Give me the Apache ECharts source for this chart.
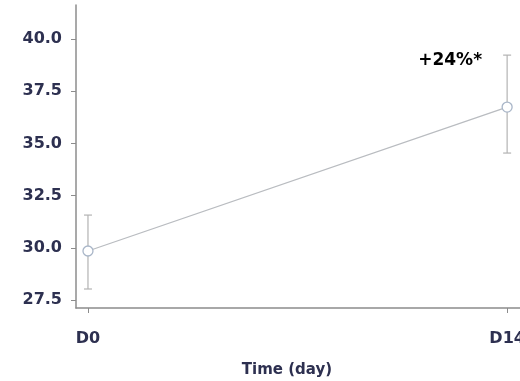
<!DOCTYPE html>
<html><head><meta charset="utf-8">
<script src="https://cdn.jsdelivr.net/npm/echarts@6/dist/echarts.min.js"></script>
<style>html,body{margin:0;padding:0;background:#fff}#c{width:520px;height:381px}</style>
</head><body><div id="c"></div>
<script>
const days = [0, 14];
const dayLabels = ['D0', 'D14'];
const means = [29.85, 36.74];
const errLow = [28.03, 34.54];
const errHigh = [31.57, 39.23];
const yTicks = [27.5, 30.0, 32.5, 35.0, 37.5, 40.0];
const annotation = '+24%*';

const chart = echarts.init(document.getElementById('c'));
const lineData = days.map((d, i) => [d, means[i]]);
const errData = days.map((d, i) => [d, errLow[i], errHigh[i]]);
const labelFont = 'DejaVu Sans';
const textColor = '#2d3050';
chart.setOption({
  animation: false,
  backgroundColor: '#fff',
  grid: {left: 76, right: 0, top: 5, bottom: 73, containLabel: false, outerBoundsMode: 'none'},
  xAxis: {
    type: 'value', min: -0.4, max: 14.43,
    axisLine: {show: true, onZero: false, lineStyle: {color: '#8c8c8c', width: 1.5}},
    axisTick: {show: true, length: 5, lineStyle: {color: '#8c8c8c'}, customValues: days},
    axisLabel: {customValues: days, formatter: v => dayLabels[days.indexOf(v)], color: textColor,
      fontFamily: labelFont, fontWeight: 'bold', fontSize: 16, margin: 23},
    splitLine: {show: false}
  },
  yAxis: {
    type: 'value', min: 27.12, max: 41.63,
    axisLine: {show: true, onZero: false, lineStyle: {color: '#8c8c8c', width: 1.5}},
    axisTick: {show: true, length: 5, lineStyle: {color: '#8c8c8c'}, customValues: yTicks},
    axisLabel: {customValues: yTicks, formatter: v => v.toFixed(1), color: textColor,
      fontFamily: labelFont, fontWeight: 'bold', fontSize: 16, margin: 14},
    splitLine: {show: false}
  },
  graphic: [
    {type: 'text', x: 287, y: 370,
     style: {text: 'Time (day)', fill: textColor, font: 'bold 15px "DejaVu Sans"', align: 'center', verticalAlign: 'middle'}}
  ],
  series: [
    {
      type: 'custom',
      renderItem: function (params, api) {
        const x = api.value(0);
        const lo = api.coord([x, api.value(1)]);
        const hi = api.coord([x, api.value(2)]);
        const cw = 4;
        const st = {stroke: '#b3b3b3', lineWidth: 1.2};
        return {type: 'group', children: [
          {type: 'line', shape: {x1: lo[0], y1: lo[1], x2: hi[0], y2: hi[1]}, style: st},
          {type: 'line', shape: {x1: lo[0]-cw, y1: lo[1], x2: lo[0]+cw, y2: lo[1]}, style: st},
          {type: 'line', shape: {x1: hi[0]-cw, y1: hi[1], x2: hi[0]+cw, y2: hi[1]}, style: st}
        ]};
      },
      data: errData, z: 1
    },
    {
      type: 'line', data: lineData, z: 2,
      lineStyle: {color: '#b9bcc0', width: 1.3},
      symbol: 'circle', symbolSize: 10,
      itemStyle: {color: '#fff', borderColor: '#a9b6c8', borderWidth: 1.3},
      markPoint: {
        symbol: 'rect', symbolSize: 0,
        data: [{coord: [14, errHigh[1]], label: {show: true, formatter: annotation,
          offset: [-57, 5], color: '#000', fontFamily: 'DejaVu Sans', fontWeight: 'bold', fontSize: 17}}]
      }
    }
  ]
});
</script></body></html>
